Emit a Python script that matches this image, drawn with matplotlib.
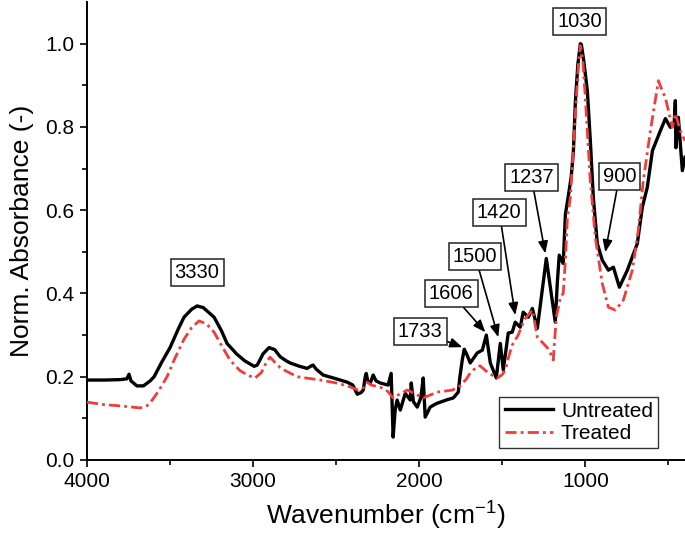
import matplotlib
matplotlib.use("Agg")
import matplotlib.pyplot as plt
import numpy as np

plt.rcParams['font.family'] = ['Liberation Sans', 'DejaVu Sans']
plt.rcParams['mathtext.fontset'] = 'custom'
plt.rcParams['mathtext.rm'] = 'Liberation Sans'
plt.rcParams['mathtext.it'] = 'Liberation Sans'
plt.rcParams['mathtext.default'] = 'regular'

untreated_wn = [4000, 3900, 3800, 3760, 3747, 3735, 3700, 3660, 3620, 3596, 3550, 3500, 3450, 3416, 3370, 3337, 3300,
                3235, 3190, 3157, 3100, 3050, 2994, 2975, 2940, 2904, 2870, 2837, 2800, 2777, 2720, 2675, 2650, 2639,
                2620, 2578, 2500, 2434, 2400, 2373, 2350, 2337, 2325, 2319, 2310, 2295, 2277, 2260, 2235, 2187, 2169,
                2157, 2145, 2133, 2114, 2084, 2054, 2048, 2035, 2012, 1990, 1976, 1964, 1934, 1900, 1873, 1830, 1795,
                1765, 1755, 1741, 1729, 1715, 1693, 1651, 1620, 1596, 1572, 1536, 1512, 1494, 1464, 1440, 1422, 1392,
                1374, 1343, 1319, 1289, 1235, 1181, 1169, 1157, 1133, 1120, 1102, 1085, 1072, 1060, 1045, 1030, 1024,
                1010, 988, 970, 952, 928, 898, 861, 831, 795, 747, 687, 657, 627, 596, 548, 518, 488, 465, 458, 455,
                440, 416, 400]
untreated_abs = [0.192, 0.192, 0.193, 0.195, 0.206, 0.190, 0.178, 0.178, 0.190, 0.200, 0.235, 0.270, 0.315, 0.343,
                 0.362, 0.370, 0.366, 0.343, 0.310, 0.280, 0.255, 0.238, 0.225, 0.228, 0.255, 0.270, 0.265, 0.248,
                 0.238, 0.233, 0.225, 0.220, 0.226, 0.228, 0.218, 0.204, 0.195, 0.187, 0.180, 0.158, 0.162, 0.168,
                 0.200, 0.208, 0.190, 0.185, 0.204, 0.190, 0.185, 0.180, 0.208, 0.055, 0.120, 0.144, 0.120, 0.160,
                 0.144, 0.185, 0.140, 0.127, 0.150, 0.197, 0.103, 0.127, 0.135, 0.139, 0.145, 0.149, 0.163, 0.200,
                 0.240, 0.266, 0.255, 0.233, 0.257, 0.264, 0.300, 0.233, 0.197, 0.280, 0.216, 0.305, 0.307, 0.331,
                 0.319, 0.355, 0.343, 0.364, 0.316, 0.484, 0.331, 0.424, 0.492, 0.472, 0.590, 0.635, 0.680, 0.740,
                 0.860, 0.950, 1.000, 0.998, 0.960, 0.887, 0.767, 0.631, 0.520, 0.480, 0.456, 0.463, 0.415, 0.456,
                 0.520, 0.607, 0.655, 0.743, 0.791, 0.820, 0.799, 0.810, 0.863, 0.750, 0.823, 0.695, 0.727]

treated_wn = [4000, 3900, 3800, 3750, 3680, 3640, 3620, 3570, 3518, 3470, 3416, 3370, 3325, 3280, 3235, 3190, 3139,
              3080, 3030, 2988, 2950, 2920, 2898, 2870, 2837, 2813, 2735, 2596, 2500, 2434, 2367, 2330, 2313, 2290,
              2235, 2190, 2157, 2110, 2072, 2020, 1976, 1892, 1800, 1753, 1715, 1693, 1650, 1633, 1610, 1584, 1530,
              1500, 1482, 1460, 1440, 1404, 1385, 1361, 1319, 1300, 1289, 1253, 1230, 1211, 1193, 1175, 1160, 1151,
              1133, 1120, 1108, 1090, 1072, 1054, 1040, 1030, 1015, 1000, 985, 970, 940, 898, 861, 819, 771, 717,
              681, 651, 608, 560, 540, 518, 476, 458, 428, 400]
treated_abs = [0.139, 0.133, 0.130, 0.128, 0.125, 0.130, 0.137, 0.165, 0.200, 0.245, 0.290, 0.318, 0.334, 0.327,
               0.307, 0.275, 0.240, 0.215, 0.203, 0.197, 0.210, 0.235, 0.247, 0.235, 0.222, 0.216, 0.200, 0.192,
               0.185, 0.178, 0.168, 0.175, 0.187, 0.180, 0.175, 0.165, 0.149, 0.160, 0.168, 0.158, 0.149, 0.163,
               0.168, 0.178, 0.195, 0.209, 0.225, 0.226, 0.218, 0.209, 0.197, 0.205, 0.216, 0.250, 0.276, 0.300,
               0.320, 0.340, 0.360, 0.320, 0.295, 0.280, 0.270, 0.257, 0.240, 0.343, 0.370, 0.390, 0.400, 0.480,
               0.583, 0.631, 0.750, 0.870, 0.960, 0.995, 0.960, 0.870, 0.770, 0.671, 0.535, 0.424, 0.367, 0.360,
               0.384, 0.456, 0.552, 0.671, 0.791, 0.911, 0.890, 0.870, 0.799, 0.832, 0.791, 0.767]

# annotations: label, text position (wn, abs), arrow target or None
ann_labels = ['3330', '1733', '1606', '1500', '1420', '1237', '1030', '900']
ann_text_x = [3337, 1994, 1807, 1663, 1518, 1325, 1036, 795]
ann_text_y = [0.451, 0.309, 0.400, 0.489, 0.595, 0.679, 1.053, 0.681]
ann_tip_x = [None, 1741, 1602, 1524, 1422, 1241, None, 880]
ann_tip_y = [None, 0.271, 0.307, 0.295, 0.348, 0.496, None, 0.499]

fig = plt.figure(figsize=(6.85, 5.42), dpi=100)
ax = fig.add_axes([0.127, 0.1513, 0.873, 0.845])

ax.plot(untreated_wn, untreated_abs, color='black', lw=2.4, label='Untreated', zorder=3)
ax.plot(treated_wn, treated_abs, color='#f03c3c', lw=2.0, linestyle=(0, (4, 1.5, 1, 1.5)),
        label='Treated', zorder=4)

ax.set_xlim(4000, 400)
ax.set_ylim(0, 1.1)
ax.set_xticks([4000, 3000, 2000, 1000])
ax.set_xticks([3500, 2500, 1500, 500], minor=True)
ax.set_yticks([0.0, 0.2, 0.4, 0.6, 0.8, 1.0])
ax.set_yticks([0.1, 0.3, 0.5, 0.7, 0.9], minor=True)
ax.yaxis.set_major_formatter(matplotlib.ticker.FormatStrFormatter('%.1f'))

for s in ['top', 'right']:
    ax.spines[s].set_visible(False)
for s in ['left', 'bottom']:
    ax.spines[s].set_linewidth(1.4)
ax.tick_params(which='major', direction='out', length=5, width=1.2, labelsize=15, pad=4)
ax.tick_params(which='minor', direction='out', length=3.5, width=1.2)

ax.set_xlabel('Wavenumber (cm$^{-1}$)', fontsize=19, labelpad=6)
ax.set_ylabel('Norm. Absorbance (-)', fontsize=19, labelpad=8)

bbox = dict(boxstyle='square,pad=0.2', fc='white', ec='#222222', lw=1.1)
for lab, tx, ty, px, py in zip(ann_labels, ann_text_x, ann_text_y, ann_tip_x, ann_tip_y):
    if px is None:
        ax.text(tx, ty, lab, fontsize=14.5, ha='center', va='center', bbox=bbox, zorder=6)
    else:
        ax.annotate(lab, xy=(px, py), xytext=(tx, ty), fontsize=14.5, ha='center', va='center',
                    bbox=bbox, zorder=6,
                    arrowprops=dict(arrowstyle='-|>,head_length=0.5,head_width=0.2', color='black',
                                    lw=1.2, shrinkA=0, shrinkB=0))

leg = ax.legend(loc='lower right', bbox_to_anchor=(0.955, 0.026), borderaxespad=0, fontsize=15,
                frameon=True, fancybox=False, handlelength=2.3, labelspacing=0.15, borderpad=0.25,
                handletextpad=0.4)
leg.get_frame().set_edgecolor('black')
leg.get_frame().set_linewidth(1.0)

fig.savefig('out.png', dpi=100)
